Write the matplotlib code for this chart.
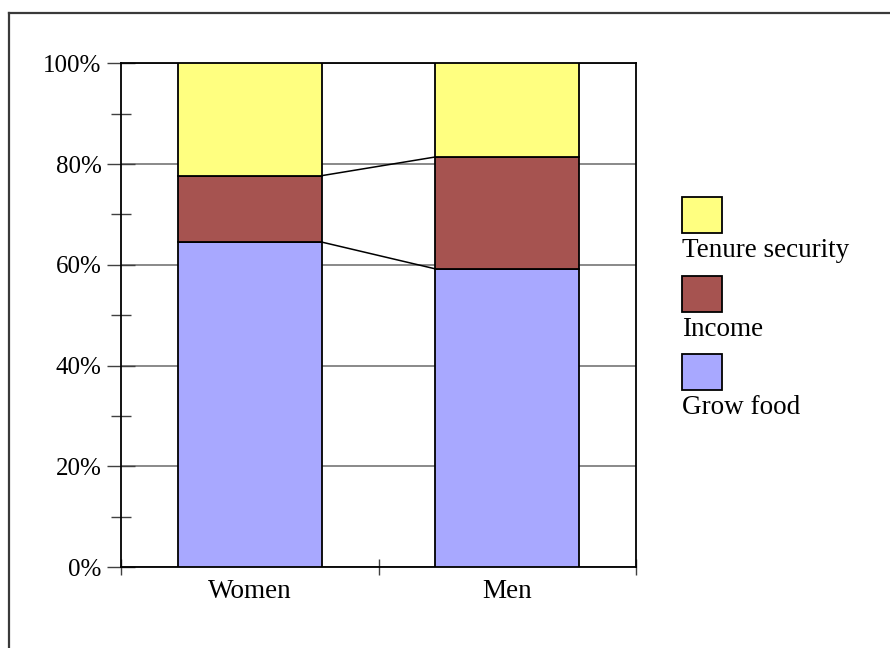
import matplotlib
matplotlib.use("Agg")
import matplotlib.pyplot as plt
from matplotlib.patches import Rectangle
from matplotlib.lines import Line2D
import numpy as np

# Share of respondents by main reason for holding land (%)
groups = ["Women", "Men"]
series_names = ["Grow food", "Income", "Tenure security"]
grow_food = [64.5, 59.2]
income = [13.2, 22.2]
tenure_security = [22.3, 18.6]
y_ticks = [0, 20, 40, 60, 80, 100]
y_tick_labels = ["0%", "20%", "40%", "60%", "80%", "100%"]

colors = ["#A8A8FF", "#A65350", "#FFFF80"]

plt.rcParams["font.family"] = ["Liberation Serif", "DejaVu Serif"]
FS = 18
FS_CAT = 19.5

fig = plt.figure(figsize=(8.9, 6.48), dpi=100)
fig.patch.set_facecolor("white")

ax = fig.add_axes([0.136, 0.125, 0.5786, 0.7773])

x = np.arange(len(groups))
width = 0.56
values = [grow_food, income, tenure_security]
bottom = np.zeros(len(groups))
tops = []
for vals, col in zip(values, colors):
    vals = np.asarray(vals, dtype=float)
    ax.bar(x, vals, width, bottom=bottom, color=col, edgecolor="black",
           linewidth=1.3, zorder=3)
    bottom = bottom + vals
    tops.append(bottom.copy())

# Series lines joining the stacked segment tops between the two bars
for t in tops[:-1]:
    ax.plot([x[0] + width / 2, x[1] - width / 2], [t[0], t[1]],
            color="black", linewidth=1.1, zorder=4)

ax.set_xlim(-0.5, len(groups) - 0.5)
ax.set_ylim(0, 100)

ax.set_yticks(y_ticks)
ax.set_yticklabels(y_tick_labels, fontsize=FS)
ax.set_yticks([10, 30, 50, 70, 90], minor=True)
ax.yaxis.grid(True, which="major", color="#808080", linewidth=1.3, zorder=0)
ax.tick_params(axis="y", which="major", direction="inout", length=20,
               width=1.0, pad=4, color="#404040")
ax.tick_params(axis="y", which="minor", direction="inout", length=15,
               width=1.0, color="#404040")

ax.set_xticks(x)
ax.set_xticklabels(groups, fontsize=FS_CAT)
ax.tick_params(axis="x", which="major", length=0, pad=9)
ax.set_xticks(np.arange(-0.5, len(groups) + 0.5, 1.0), minor=True)
ax.tick_params(axis="x", which="minor", direction="inout", length=12,
               width=1.0, color="#404040")

for s in ax.spines.values():
    s.set_color("black")
    s.set_linewidth(1.3)

# Legend: swatches with the label below each
fw, fh = fig.get_size_inches() * fig.dpi
legend_items = list(zip(series_names, colors))[::-1]
sw_left, sw_w, sw_h = 682, 40, 36
sw_tops = [197, 276, 354]
for (name, col), top in zip(legend_items, sw_tops):
    fig.patches.append(Rectangle((sw_left / fw, 1 - (top + sw_h) / fh),
                                 sw_w / fw, sw_h / fh, facecolor=col,
                                 edgecolor="black", linewidth=1.3,
                                 transform=fig.transFigure, figure=fig))
    fig.text(sw_left / fw, 1 - (top + sw_h + 5) / fh, name, fontsize=FS_CAT,
             ha="left", va="top")

# Outer chart frame
fig.add_artist(Line2D([9 / fw, 1.0], [1 - 13 / fh, 1 - 13 / fh],
                      transform=fig.transFigure, color="#3a3a3a", linewidth=1.6))
fig.add_artist(Line2D([9 / fw, 9 / fw], [1 - 13 / fh, 0.0],
                      transform=fig.transFigure, color="#3a3a3a", linewidth=1.6))

fig.savefig("out.png", dpi=100, facecolor="white")
